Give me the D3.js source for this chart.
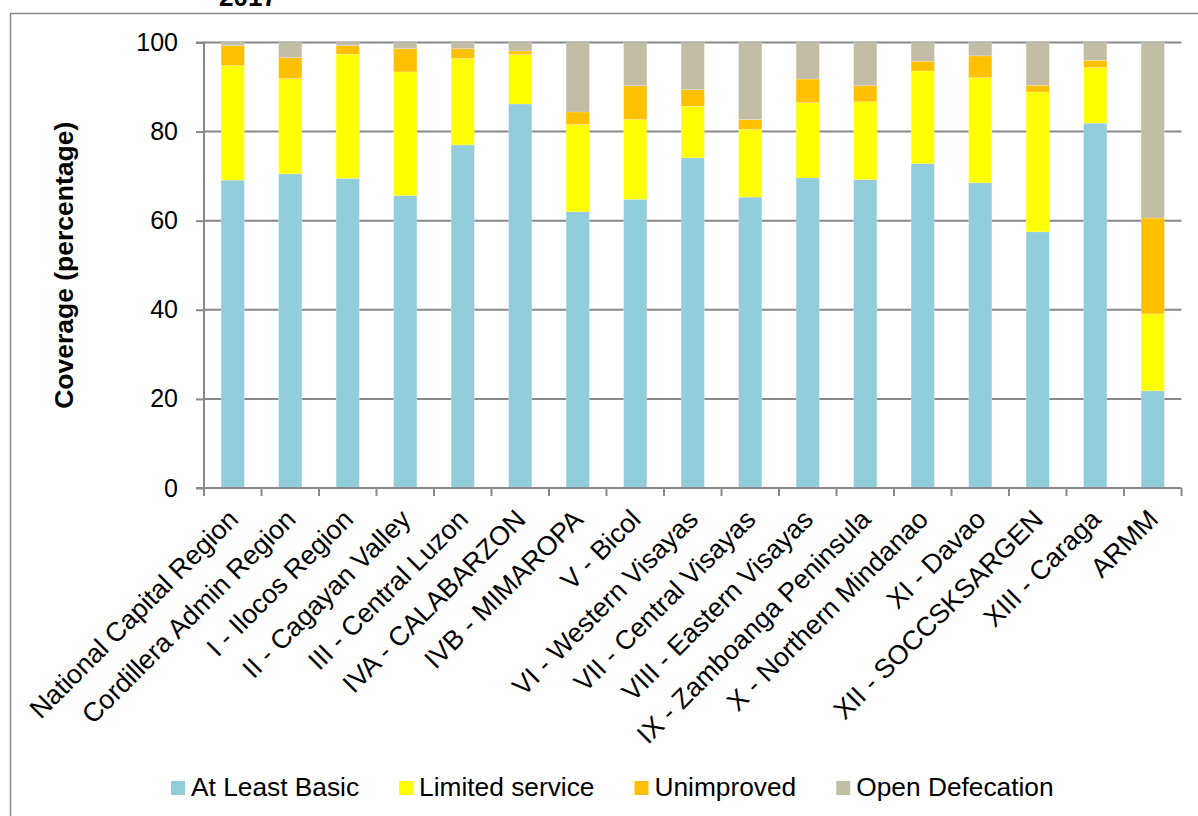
<!DOCTYPE html>
<html>
<head>
<meta charset="utf-8">
<script src="https://cdn.jsdelivr.net/npm/d3@7"></script>
<style>
  html, body { margin: 0; padding: 0; background: #fff; }
  svg { display: block; font-family: "Liberation Sans", Arial, sans-serif; }
</style>
</head>
<body>
<svg id="chart" width="1198" height="816"></svg>
<script>
const categories = [
  "National Capital Region", "Cordillera Admin Region", "I - Ilocos Region",
  "II - Cagayan Valley", "III - Central Luzon", "IVA - CALABARZON",
  "IVB - MIMAROPA", "V - Bicol", "VI - Western Visayas", "VII - Central Visayas",
  "VIII - Eastern Visayas", "IX - Zamboanga Peninsula", "X - Northern Mindanao",
  "XI - Davao", "XII - SOCCSKSARGEN", "XIII - Caraga", "ARMM"
];
const atLeastBasic    = [69.1, 70.5, 69.5, 65.6, 77.0, 86.2, 62.0, 64.8, 74.1, 65.3, 69.6, 69.2, 72.8, 68.5, 57.5, 81.9, 21.8];
const limitedService  = [25.7, 21.4, 27.9, 27.8, 19.4, 11.1, 19.6, 17.9, 11.6, 15.2, 16.9, 17.5, 20.8, 23.6, 31.4, 12.5, 17.3];
const unimproved      = [4.5, 4.7, 1.9, 5.2, 2.2, 0.8, 2.8, 7.6, 3.7, 2.2, 5.3, 3.6, 2.2, 4.9, 1.5, 1.6, 21.5];
const openDefecation  = [0.7, 3.4, 0.7, 1.4, 1.4, 1.9, 15.6, 9.7, 10.6, 17.3, 8.2, 9.7, 4.2, 3.0, 9.6, 4.0, 39.4];
const seriesNames = ["At Least Basic", "Limited service", "Unimproved", "Open Defecation"];
const seriesColors = ["#92CDDC", "#FFFF00", "#FFC000", "#C4BDA6"];
const yTicks = [0, 20, 40, 60, 80, 100];
const chartTitle = "2017";
const yTitle = "Coverage (percentage)";

const seriesValues = [atLeastBasic, limitedService, unimproved, openDefecation];
const keys = ["basic", "limited", "unimp", "od"];
const table = categories.map((c, i) => {
  const row = { cat: c };
  keys.forEach((k, j) => row[k] = seriesValues[j][i]);
  return row;
});
const stacked = d3.stack().keys(keys)(table);

const svg = d3.select("#chart");
const gridColor = "#898989";

// outer frame
svg.append("rect")
  .attr("x", 10.5).attr("y", 13.5)
  .attr("width", 1300).attr("height", 900)
  .attr("fill", "none").attr("stroke", "#8a8a8a").attr("stroke-width", 1.5);

// title (mostly cut off at top, as in the reference)
svg.append("text")
  .attr("x", 248).attr("y", 6)
  .attr("text-anchor", "middle")
  .attr("font-weight", "bold").attr("font-size", 26)
  .text(chartTitle);

const x0 = 204, x1 = 1181.5;
const x = d3.scaleBand().domain(categories).range([x0, x1]).padding(0);
const y = d3.scaleLinear().domain([0, 100]).range([488, 42.5]);

// gridlines
svg.append("g").selectAll("line")
  .data(yTicks.filter(t => t > 0))
  .join("line")
  .attr("x1", x0).attr("x2", x1)
  .attr("y1", d => y(d)).attr("y2", d => y(d))
  .attr("stroke", gridColor).attr("stroke-width", 2);

// bars
const barW = x.bandwidth() * 0.405;
svg.append("g").selectAll("g")
  .data(stacked)
  .join("g")
  .attr("fill", (d, i) => seriesColors[i])
  .selectAll("rect")
  .data(d => d)
  .join("rect")
  .attr("x", d => x(d.data.cat) + (x.bandwidth() - barW) / 2)
  .attr("width", barW)
  .attr("y", d => y(d[1]))
  .attr("height", d => y(d[0]) - y(d[1]))
  .attr("stroke", "#ffffff").attr("stroke-opacity", 0.35).attr("stroke-width", 0.6);

// y axis
const yAxis = d3.axisLeft(y).tickValues(yTicks).tickSize(8).tickPadding(18).tickFormat(d3.format("d"));
const gy = svg.append("g").attr("transform", `translate(${x0},0)`).call(yAxis);
gy.select(".domain").attr("stroke", gridColor).attr("stroke-width", 2).attr("d", `M-8,${y(100)}H0V${y(0)}`);
gy.selectAll(".tick line").attr("stroke", gridColor).attr("stroke-width", 2);
gy.selectAll(".tick text").attr("font-size", 25).attr("fill", "#000")
  .attr("font-family", "Liberation Sans, Arial, sans-serif");

// x axis line
svg.append("line")
  .attr("x1", x0 - 8).attr("x2", x1)
  .attr("y1", y(0)).attr("y2", y(0))
  .attr("stroke", gridColor).attr("stroke-width", 2);
// x ticks at category boundaries
const boundaries = categories.map(c => x(c)).concat([x1]);
svg.append("g").selectAll("line")
  .data(boundaries)
  .join("line")
  .attr("x1", d => d).attr("x2", d => d)
  .attr("y1", y(0)).attr("y2", y(0) + 8)
  .attr("stroke", gridColor).attr("stroke-width", 2);

// x labels rotated
svg.append("g").selectAll("text")
  .data(categories)
  .join("text")
  .attr("transform", d => `translate(${x(d) + x.bandwidth() / 2 + 7},${y(0) + 33}) rotate(-45)`)
  .attr("text-anchor", "end")
  .attr("font-size", 26.8)
  .attr("fill", "#000")
  .text(d => d);

// y title
svg.append("text")
  .attr("transform", `translate(73,${(y(0) + y(100)) / 2}) rotate(-90)`)
  .attr("text-anchor", "middle")
  .attr("font-weight", "bold").attr("font-size", 26.5)
  .text(yTitle);

// legend
const legend = svg.append("g");
let lx = 171;
seriesNames.forEach((name, i) => {
  legend.append("rect")
    .attr("x", lx).attr("y", 781).attr("width", 14).attr("height", 14)
    .attr("fill", seriesColors[i]);
  const t = legend.append("text")
    .attr("x", lx + 20).attr("y", 796)
    .attr("font-size", 26.3).attr("fill", "#000")
    .text(name);
  lx += 20 + t.node().getComputedTextLength() + 40;
});
</script>
</body>
</html>
